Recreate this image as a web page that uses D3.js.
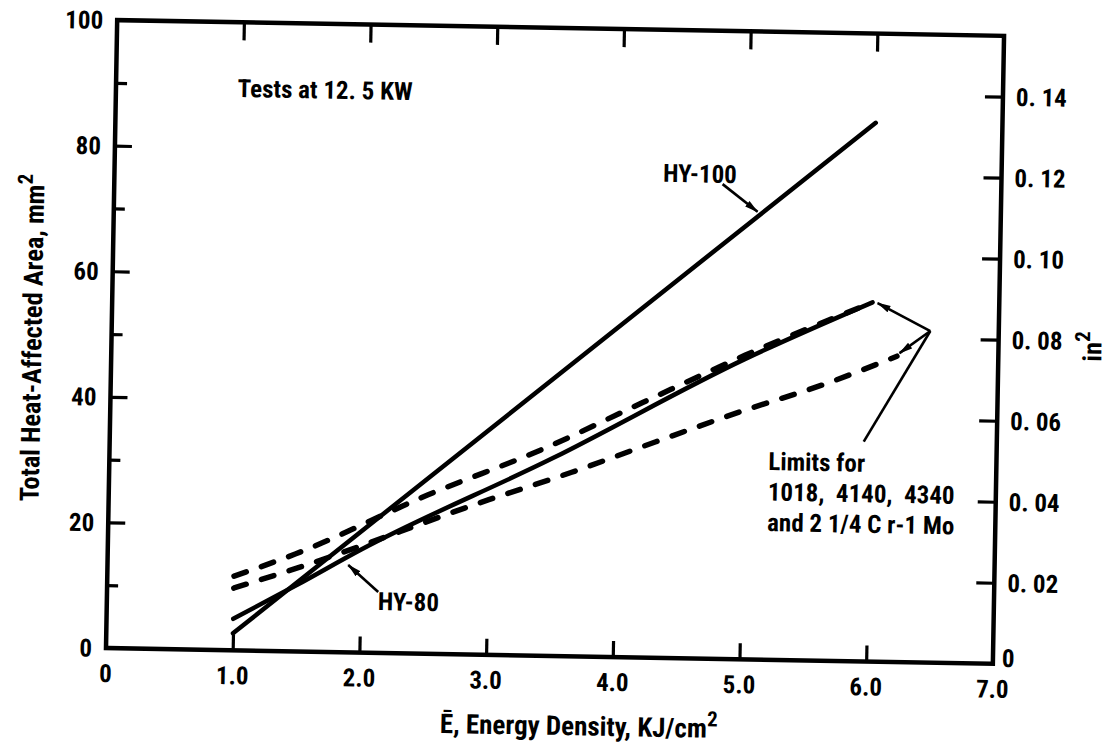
<!DOCTYPE html>
<html><head><meta charset="utf-8">
<script src="https://cdn.jsdelivr.net/npm/d3@7"></script>
<style>
body{margin:0;background:#fff;}
svg text{font-family:"Liberation Sans Narrow","Roboto Condensed","DejaVu Sans Condensed",sans-serif;font-weight:bold;fill:#000;}
</style></head><body>
<svg id="c" width="1107" height="749"></svg>
<script>
// ---- data ----
const xTicks = [0, 1, 2, 3, 4, 5, 6, 7];
const xTickLabels = ["0", "1.0", "2.0", "3.0", "4.0", "5.0", "6.0", "7.0"];
const yTicks = [0, 20, 40, 60, 80, 100];
const yMinorTicks = [10, 30, 50, 70, 90];
const y2Ticks = [0.02, 0.04, 0.06, 0.08, 0.10, 0.12, 0.14];
const y2TickLabels = ["0. 02", "0. 04", "0. 06", "0. 08", "0. 10", "0. 12", "0. 14"];
const MM2_PER_IN2 = 645.16;

const hy100X = [1.0, 6.0];
const hy100Y = [2.7, 85.8];
const hy80X = [1.0, 1.5, 2.0, 3.5, 5.0, 6.0];
const hy80Y = [5.0, 10.6, 16.4, 31.5, 47.8, 57.2];
const upperDashX = [1.0, 1.48, 2.52, 3.44, 4.2, 5.0, 6.0];
const upperDashY = [11.8, 15.5, 25.3, 33.1, 40.6, 48.4, 57.2];
const lowerDashX = [1.0, 1.5, 3.0, 3.65, 4.31, 4.97, 5.68, 6.2];
const lowerDashY = [9.9, 13.3, 24.7, 29.3, 34.4, 39.4, 44.4, 48.7];

// annotations (data units)
const arrowsWithHead = [
  {from: [4.80, 75.6], to: [5.08, 71.3]},   // HY-100
  {from: [2.14, 9.7], to: [1.90, 13.9]},    // HY-80
  {from: [6.46, 52.8], to: [6.04, 57.1]},   // limits upper
  {from: [6.46, 52.8], to: [6.22, 49.2]}    // limits lower
];
const plainLeaders = [{from: [6.46, 52.8], to: [5.95, 35.0]}];
const notes = [
  {at: [0.96, 88.1], lines: ["Tests at 12. 5 KW"]},
  {at: [4.33, 75.8], lines: ["HY-100"]},
  {at: [2.14, 6.8], lines: ["HY-80"]},
  {at: [5.20, 30.2], lines: ["Limits for", "1018,  4140,  4340", "and 2 1/4 C r-1 Mo"]}
];

// ---- layout ----
const L = 106, B = 648, W = 887, H = 628;
const svg = d3.select("#c");
const defs = svg.append("defs");
defs.append("marker").attr("id", "ah").attr("markerUnits", "userSpaceOnUse")
  .attr("viewBox", "0 0 14 8").attr("refX", 13).attr("refY", 4)
  .attr("markerWidth", 14).attr("markerHeight", 8).attr("orient", "auto")
  .append("path").attr("d", "M0,0.5 L14,4 L0,7.5 Z").attr("fill", "#000");

const g = svg.append("g").attr("transform", `rotate(1.02, ${L}, ${B})`);

const x = d3.scaleLinear().domain([0, 7]).range([L, L + W]);
const y = d3.scaleLinear().domain([0, 100]).range([B, B - H]);
const y2 = d3.scaleLinear().domain([0, 100 / MM2_PER_IN2]).range([B, B - H]);

const FS = 25;

// axes using d3 axis generators
const axB = g.append("g").attr("transform", `translate(0,${B})`)
  .call(d3.axisBottom(x).tickValues(xTicks.slice(1, 7)).tickSizeInner(-16).tickSizeOuter(0).tickFormat(""));
const axT = g.append("g").attr("transform", `translate(0,${B - H})`)
  .call(d3.axisTop(x).tickValues(xTicks.slice(1, 7)).tickSizeInner(-18).tickSizeOuter(0).tickFormat(""));
const axL = g.append("g").attr("transform", `translate(${L},0)`)
  .call(d3.axisLeft(y).tickValues(yTicks.slice(1, 5)).tickSizeInner(-17).tickSizeOuter(0).tickFormat(""));
const axLm = g.append("g").attr("transform", `translate(${L},0)`)
  .call(d3.axisLeft(y).tickValues(yMinorTicks).tickSizeInner(-11).tickSizeOuter(0).tickFormat(""));
const axR = g.append("g").attr("transform", `translate(${L + W},0)`)
  .call(d3.axisRight(y2).tickValues(y2Ticks).tickSizeInner(-18).tickSizeOuter(0).tickFormat(""));
[axB, axT, axL, axLm, axR].forEach(a => {
  a.selectAll(".domain").attr("stroke", "none");
  a.selectAll(".tick line").attr("stroke", "#000").attr("stroke-width", 3.2);
});
// frame
g.append("rect").attr("x", L).attr("y", B - H).attr("width", W).attr("height", H)
  .attr("fill", "none").attr("stroke", "#000").attr("stroke-width", 4.5);

// tick labels
g.append("g").selectAll("text").data(xTicks).join("text")
  .attr("x", d => x(d)).attr("y", B + 34).attr("text-anchor", "middle")
  .attr("font-size", FS).text((d, i) => xTickLabels[i]);
g.append("g").selectAll("text").data(yTicks).join("text")
  .attr("x", L - 14).attr("y", d => y(d)).attr("dy", "0.36em").attr("text-anchor", "end")
  .attr("font-size", FS).text(d => d);
g.append("g").selectAll("text").data(y2Ticks).join("text")
  .attr("x", L + W + 13).attr("y", d => y2(d)).attr("dy", "0.36em")
  .attr("font-size", FS).text((d, i) => y2TickLabels[i]);
g.append("text").attr("x", L + W + 9).attr("y", y2(0) + 3).attr("font-size", FS).text("0");

// axis titles
const lt = g.append("text").attr("transform", `translate(36,339) rotate(-90)`)
  .attr("text-anchor", "middle").attr("font-size", 26.5);
lt.append("tspan").text("Total Heat-Affected Area, mm");
lt.append("tspan").attr("dy", "-0.55em").attr("font-size", 21).text("2");

const bt = g.append("text").attr("x", 580).attr("y", 727).attr("text-anchor", "middle").attr("font-size", 27);
bt.append("tspan").text("\u0112, Energy Density, KJ/cm");
bt.append("tspan").attr("dy", "-0.55em").attr("font-size", 21).text("2");

const rt = g.append("text").attr("transform", `translate(1096,329) rotate(-90)`)
  .attr("text-anchor", "middle").attr("font-size", 26);
rt.append("tspan").text("in");
rt.append("tspan").attr("dy", "-0.55em").attr("font-size", 21).text("2");

// lines
const line = d3.line().x(d => x(d[0])).y(d => y(d[1])).curve(d3.curveMonotoneX);
const zip = (a, b) => a.map((v, i) => [v, b[i]]);
g.append("path").attr("d", line(zip(hy100X, hy100Y))).attr("fill", "none")
  .attr("stroke", "#000").attr("stroke-width", 4.5).attr("stroke-linecap", "round");
g.append("path").attr("d", line(zip(hy80X, hy80Y))).attr("fill", "none")
  .attr("stroke", "#000").attr("stroke-width", 4.5).attr("stroke-linecap", "round");
[zip(upperDashX, upperDashY), zip(lowerDashX, lowerDashY)].forEach(pts => {
  g.append("path").attr("d", line(pts)).attr("fill", "none")
    .attr("stroke", "#000").attr("stroke-width", 5.5).attr("stroke-linecap", "round")
    .attr("stroke-dasharray", "13 16");
});

// arrows
g.append("g").selectAll("line").data(arrowsWithHead).join("line")
  .attr("x1", d => x(d.from[0])).attr("y1", d => y(d.from[1]))
  .attr("x2", d => x(d.to[0])).attr("y2", d => y(d.to[1]))
  .attr("stroke", "#000").attr("stroke-width", 2.6).attr("marker-end", "url(#ah)");
g.append("g").selectAll("line").data(plainLeaders).join("line")
  .attr("x1", d => x(d.from[0])).attr("y1", d => y(d.from[1]))
  .attr("x2", d => x(d.to[0])).attr("y2", d => y(d.to[1]))
  .attr("stroke", "#000").attr("stroke-width", 2.6);

// notes
notes.forEach(n => {
  const t = g.append("text").attr("x", x(n.at[0])).attr("y", y(n.at[1])).attr("font-size", FS)
    .attr("xml:space", "preserve").style("white-space", "pre");
  n.lines.forEach((s, i) => t.append("tspan").attr("x", x(n.at[0])).attr("dy", i ? 30.5 : 0).text(s));
});
</script>
</body></html>
